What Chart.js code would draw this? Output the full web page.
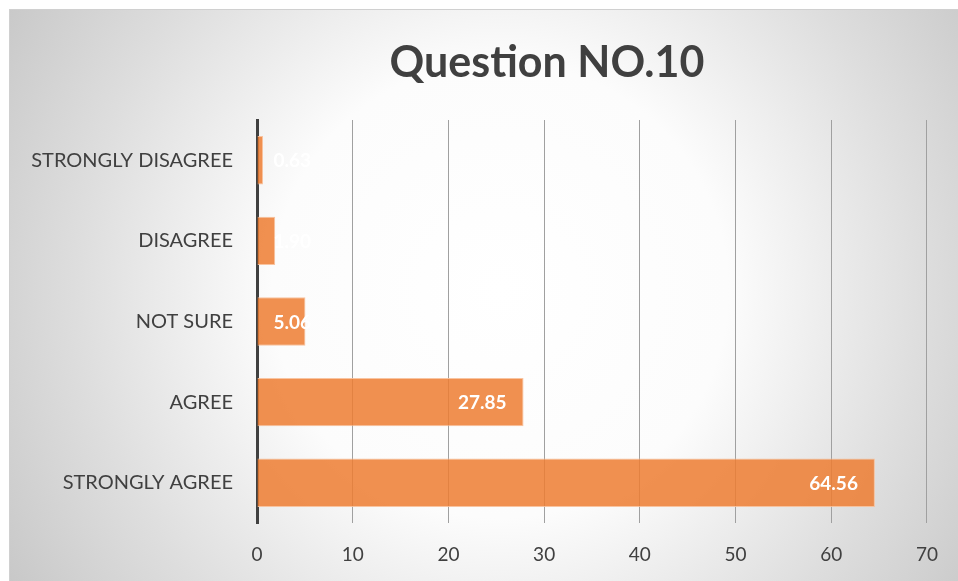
<!DOCTYPE html>
<html>
<head>
<meta charset="utf-8">
<script src="https://cdn.jsdelivr.net/npm/chart.js@4"></script>
<style>
  html, body { margin: 0; padding: 0; background: #fff; }
  #wrap { width: 958px; height: 581px; position: relative; }
</style>
</head>
<body>
<div id="wrap"><canvas id="q10Chart" width="958" height="581"></canvas></div>
<script>
// datos
const categorias = ['STRONGLY DISAGREE', 'DISAGREE', 'NOT SURE', 'AGREE', 'STRONGLY AGREE'];
const porcentajes = [0.63, 1.90, 5.06, 27.85, 64.56];
const ejeX = [0, 10, 20, 30, 40, 50, 60, 70];
const titulo = 'Question NO.10';

const fuente = "Lato, 'Open Sans', sans-serif";

// fondo con degradado radial y borde gris
const fondoPlugin = {
    id: 'fondo',
    beforeDraw(chart) {
        const c = chart.ctx;
        c.save();
        const g = c.createRadialGradient(500, 290, 0, 500, 290, 600);
        g.addColorStop(0, '#ffffff');
        g.addColorStop(0.38, '#fcfcfc');
        g.addColorStop(0.7, '#dedede');
        g.addColorStop(1, '#c4c4c4');
        c.fillStyle = g;
        c.fillRect(9, 9, 958 - 9, 581 - 9);
        c.strokeStyle = '#d0d0d0';
        c.lineWidth = 1;
        c.strokeRect(9.5, 9.5, 958, 581);
        // titulo
        c.fillStyle = '#404040';
        c.font = 'bold 43px ' + fuente;
        c.textAlign = 'center';
        c.textBaseline = 'middle';
        c.fillText(titulo, 547, 63);
        c.restore();
    }
};

// etiquetas blancas dentro de la barra
const etiquetasPlugin = {
    id: 'etiquetas',
    afterDatasetsDraw(chart) {
        const c = chart.ctx;
        const meta = chart.getDatasetMeta(0);
        c.save();
        c.font = 'bold 19px ' + fuente;
        c.fillStyle = '#ffffff';
        c.textBaseline = 'middle';
        c.textAlign = 'left';
        meta.data.forEach((bar, i) => {
            const txt = porcentajes[i].toFixed(2);
            const w = c.measureText(txt).width;
            const tx = Math.max(bar.x - 17 - w, bar.base + 16);
            c.fillText(txt, tx, bar.y + 1);
        });
        c.restore();
    }
};

const ctx = document.getElementById('q10Chart').getContext('2d');
new Chart(ctx, {
    type: 'bar',
    data: {
        labels: categorias,
        datasets: [{
            data: porcentajes,
            backgroundColor: 'rgba(237,125,49,0.85)',
            borderColor: 'rgba(248,190,150,0.9)',
            borderWidth: 1,
            barPercentage: 0.6,
            categoryPercentage: 1
        }]
    },
    options: {
        indexAxis: 'y',
        responsive: false,
        animation: false,
        devicePixelRatio: 1,
        layout: { padding: { top: 120, left: 9, right: 27, bottom: 0 } },
        plugins: {
            legend: { display: false },
            tooltip: { enabled: false }
        },
        scales: {
            x: {
                min: ejeX[0],
                max: ejeX[ejeX.length - 1],
                afterBuildTicks: s => { s.ticks = ejeX.map(v => ({ value: v })); },
                grid: { color: '#a0a0a0', lineWidth: 1, drawTicks: false },
                border: { display: false },
                ticks: { color: '#404040', font: { family: fuente, size: 19 }, padding: 20, maxRotation: 0 },
                afterFit: s => { s.height = 58; }
            },
            y: {
                grid: { display: false, drawTicks: false },
                border: { display: true, color: '#404040', width: 3 },
                ticks: { color: '#404040', font: { family: fuente, size: 20 }, padding: 24 },
                afterFit: s => { s.width = 248; }
            }
        }
    },
    plugins: [fondoPlugin, etiquetasPlugin]
});
</script>
</body>
</html>
